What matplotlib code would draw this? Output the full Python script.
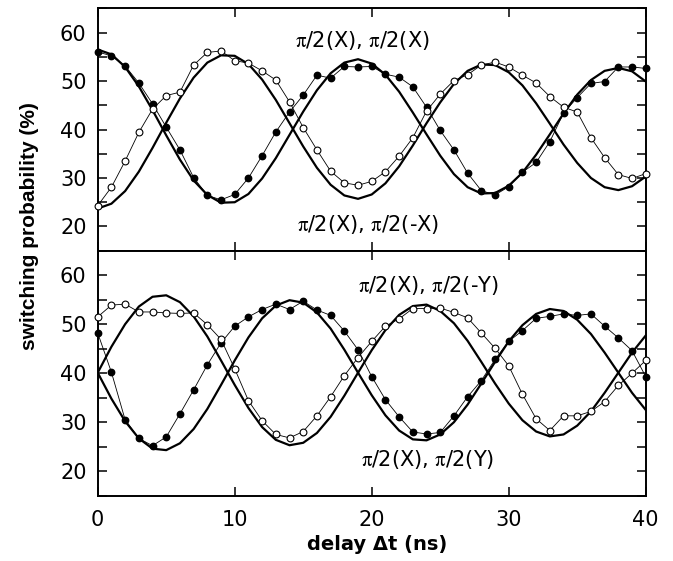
"""
Ramsey fringes for two pulse sequences: measured switching probability
(open / filled circles) with damped-cosine fits (thick lines).
"""

import numpy as np
import matplotlib
matplotlib.use("Agg")
import matplotlib.pyplot as plt
from matplotlib.ticker import MultipleLocator

plt.rcParams["font.family"] = "DejaVu Sans"
plt.rcParams["mathtext.fontset"] = "stix"

# ── Data ───────────────────────────────────────────────────────
delay_ns = np.arange(41)

# upper panel: pi/2(X) followed by pi/2(X) / pi/2(-X)
top_open = [24.3, 28.1, 33.5, 39.4, 44.2, 47.0, 47.7, 53.3, 55.9, 56.2,
            54.2, 53.7, 52.1, 50.2, 45.7, 40.4, 35.8, 31.4, 29.0, 28.5,
            29.3, 31.3, 34.5, 38.3, 43.8, 47.3, 50.1, 51.3, 53.3, 53.9,
            52.9, 51.2, 49.6, 46.8, 44.6, 43.6, 38.3, 34.2, 30.7, 29.9,
            30.9]
top_filled = [56.0, 55.2, 53.1, 49.6, 45.3, 40.5, 35.8, 30.1, 26.4, 25.5,
              26.6, 30.0, 34.6, 39.5, 43.6, 47.1, 51.2, 50.6, 53.0, 52.9,
              53.0, 51.4, 50.8, 48.8, 44.6, 39.8, 35.8, 31.0, 27.4, 26.5,
              28.2, 31.2, 33.2, 37.5, 43.4, 46.6, 49.5, 49.9, 52.9, 52.9,
              52.6]
top_fit_a = [23.7, 24.7, 27.3, 31.3, 36.2, 41.4, 46.4, 50.7, 53.8, 55.3,
             55.2, 53.5, 50.3, 46.1, 41.3, 36.5, 32.1, 28.6, 26.4, 25.7,
             26.6, 28.9, 32.4, 36.7, 41.3, 45.6, 49.4, 52.1, 53.4, 53.3,
             51.8, 49.1, 45.4, 41.2, 36.9, 33.1, 30.0, 28.1, 27.5, 28.3,
             30.3]
top_fit_b = [56.5, 55.5, 52.9, 48.9, 44.0, 38.8, 33.8, 29.5, 26.5, 24.9,
             25.0, 26.7, 29.9, 34.1, 38.9, 43.7, 48.1, 51.6, 53.8, 54.5,
             53.6, 51.3, 47.8, 43.5, 39.0, 34.6, 30.8, 28.1, 26.8, 26.9,
             28.4, 31.1, 34.8, 39.0, 43.3, 47.2, 50.2, 52.1, 52.7, 52.0,
             49.9]

# lower panel: pi/2(X) followed by pi/2(-Y) / pi/2(Y)
bot_open = [51.5, 53.9, 54.1, 52.5, 52.5, 52.3, 52.2, 52.3, 49.9, 46.9,
            40.9, 34.4, 30.3, 27.5, 26.8, 28.1, 31.3, 35.2, 39.5, 43.2,
            46.5, 49.6, 51.1, 53.2, 53.2, 53.3, 52.4, 51.3, 48.2, 45.1,
            41.5, 35.7, 30.7, 28.3, 31.3, 31.3, 32.2, 34.2, 37.5, 40.0,
            42.6]
bot_filled = [48.2, 40.2, 30.5, 26.7, 25.2, 27.0, 31.7, 36.6, 41.7, 46.2,
              49.6, 51.5, 53.0, 54.1, 53.0, 54.7, 52.9, 51.8, 48.6, 44.8,
              39.3, 34.6, 31.1, 28.0, 27.6, 27.9, 31.3, 35.2, 38.5, 42.8,
              46.5, 48.7, 51.2, 51.6, 52.1, 51.8, 52.1, 49.6, 47.2, 44.6,
              39.3]
bot_fit_c = [40.1, 45.4, 50.0, 53.6, 55.6, 55.9, 54.5, 51.6, 47.5, 42.6,
             37.6, 32.9, 29.0, 26.4, 25.3, 25.8, 27.8, 31.1, 35.4, 40.1,
             44.7, 48.8, 51.9, 53.7, 54.0, 52.7, 50.2, 46.6, 42.3, 37.9,
             33.8, 30.4, 28.1, 27.1, 27.5, 29.3, 32.2, 36.0, 40.1, 44.2,
             47.7]
bot_fit_d = [40.1, 34.8, 30.2, 26.7, 24.6, 24.3, 25.7, 28.6, 32.7, 37.6,
             42.6, 47.3, 51.2, 53.8, 54.9, 54.4, 52.4, 49.1, 44.8, 40.1,
             35.5, 31.4, 28.3, 26.5, 26.3, 27.5, 30.0, 33.6, 37.9, 42.3,
             46.5, 49.8, 52.1, 53.1, 52.7, 50.9, 48.0, 44.2, 40.1, 36.0,
             32.5]

PI = r"$\mathrm{\pi}$"
top_labels = [(f"{PI}/2(X), {PI}/2(X)", 19.3, 58.4),
              (f"{PI}/2(X), {PI}/2(-X)", 19.7, 20.5)]
bot_labels = [(f"{PI}/2(X), {PI}/2(-Y)", 24.1, 58.0),
              (f"{PI}/2(X), {PI}/2(Y)", 24.05, 22.3)]

TICK_FS = 15
NOTE_FS = 15


def draw_panel(ax, y_open, y_filled, fit1, fit2, labels, show_xlabels):
    ax.plot(delay_ns, fit1, color="black", lw=1.6, zorder=2)
    ax.plot(delay_ns, fit2, color="black", lw=1.6, zorder=2)
    ax.plot(delay_ns, y_filled, color="black", lw=0.6, marker="o",
            ms=4.6, mfc="black", mec="black", zorder=3, clip_on=False)
    ax.plot(delay_ns, y_open, color="black", lw=0.6, marker="o",
            ms=4.9, mfc="white", mec="black", mew=0.8, zorder=4,
            clip_on=False)

    for txt, x, y in labels:
        ax.text(x, y, txt, ha="center", va="center", fontsize=NOTE_FS)

    ax.set_xlim(0, 40)
    ax.set_ylim(15, 65)
    ax.xaxis.set_major_locator(MultipleLocator(10))
    ax.yaxis.set_minor_locator(MultipleLocator(5))
    ax.set_yticks([20, 30, 40, 50, 60])
    ax.tick_params(which="both", direction="in", length=6.5, width=1.1,
                   top=True, right=True, labelsize=TICK_FS)
    ax.tick_params(axis="y", pad=8)
    ax.tick_params(axis="x", pad=10, labelbottom=show_xlabels)
    for spine in ax.spines.values():
        spine.set_linewidth(1.4)


fig = plt.figure(figsize=(6.73, 5.61), dpi=100)
ax_top = fig.add_axes([0.1452, 0.5531, 0.8143, 0.4321])
ax_bot = fig.add_axes([0.1452, 0.1164, 0.8143, 0.4367])

draw_panel(ax_top, top_open, top_filled, top_fit_a, top_fit_b,
           top_labels, show_xlabels=False)
draw_panel(ax_bot, bot_open, bot_filled, bot_fit_c, bot_fit_d,
           bot_labels, show_xlabels=True)

fig.text(30 / 673, 1 - 226.5 / 561, "switching probability (%)",
         rotation=90, ha="center", va="center", fontsize=15,
         fontweight="bold", family="Liberation Sans")
fig.text(376.7 / 673, 1 - 545 / 561, "delay \u0394t (ns)",
         ha="center", va="center", fontsize=14, fontweight="bold")

fig.savefig("out.png", dpi=100, facecolor="white")
plt.close(fig)
